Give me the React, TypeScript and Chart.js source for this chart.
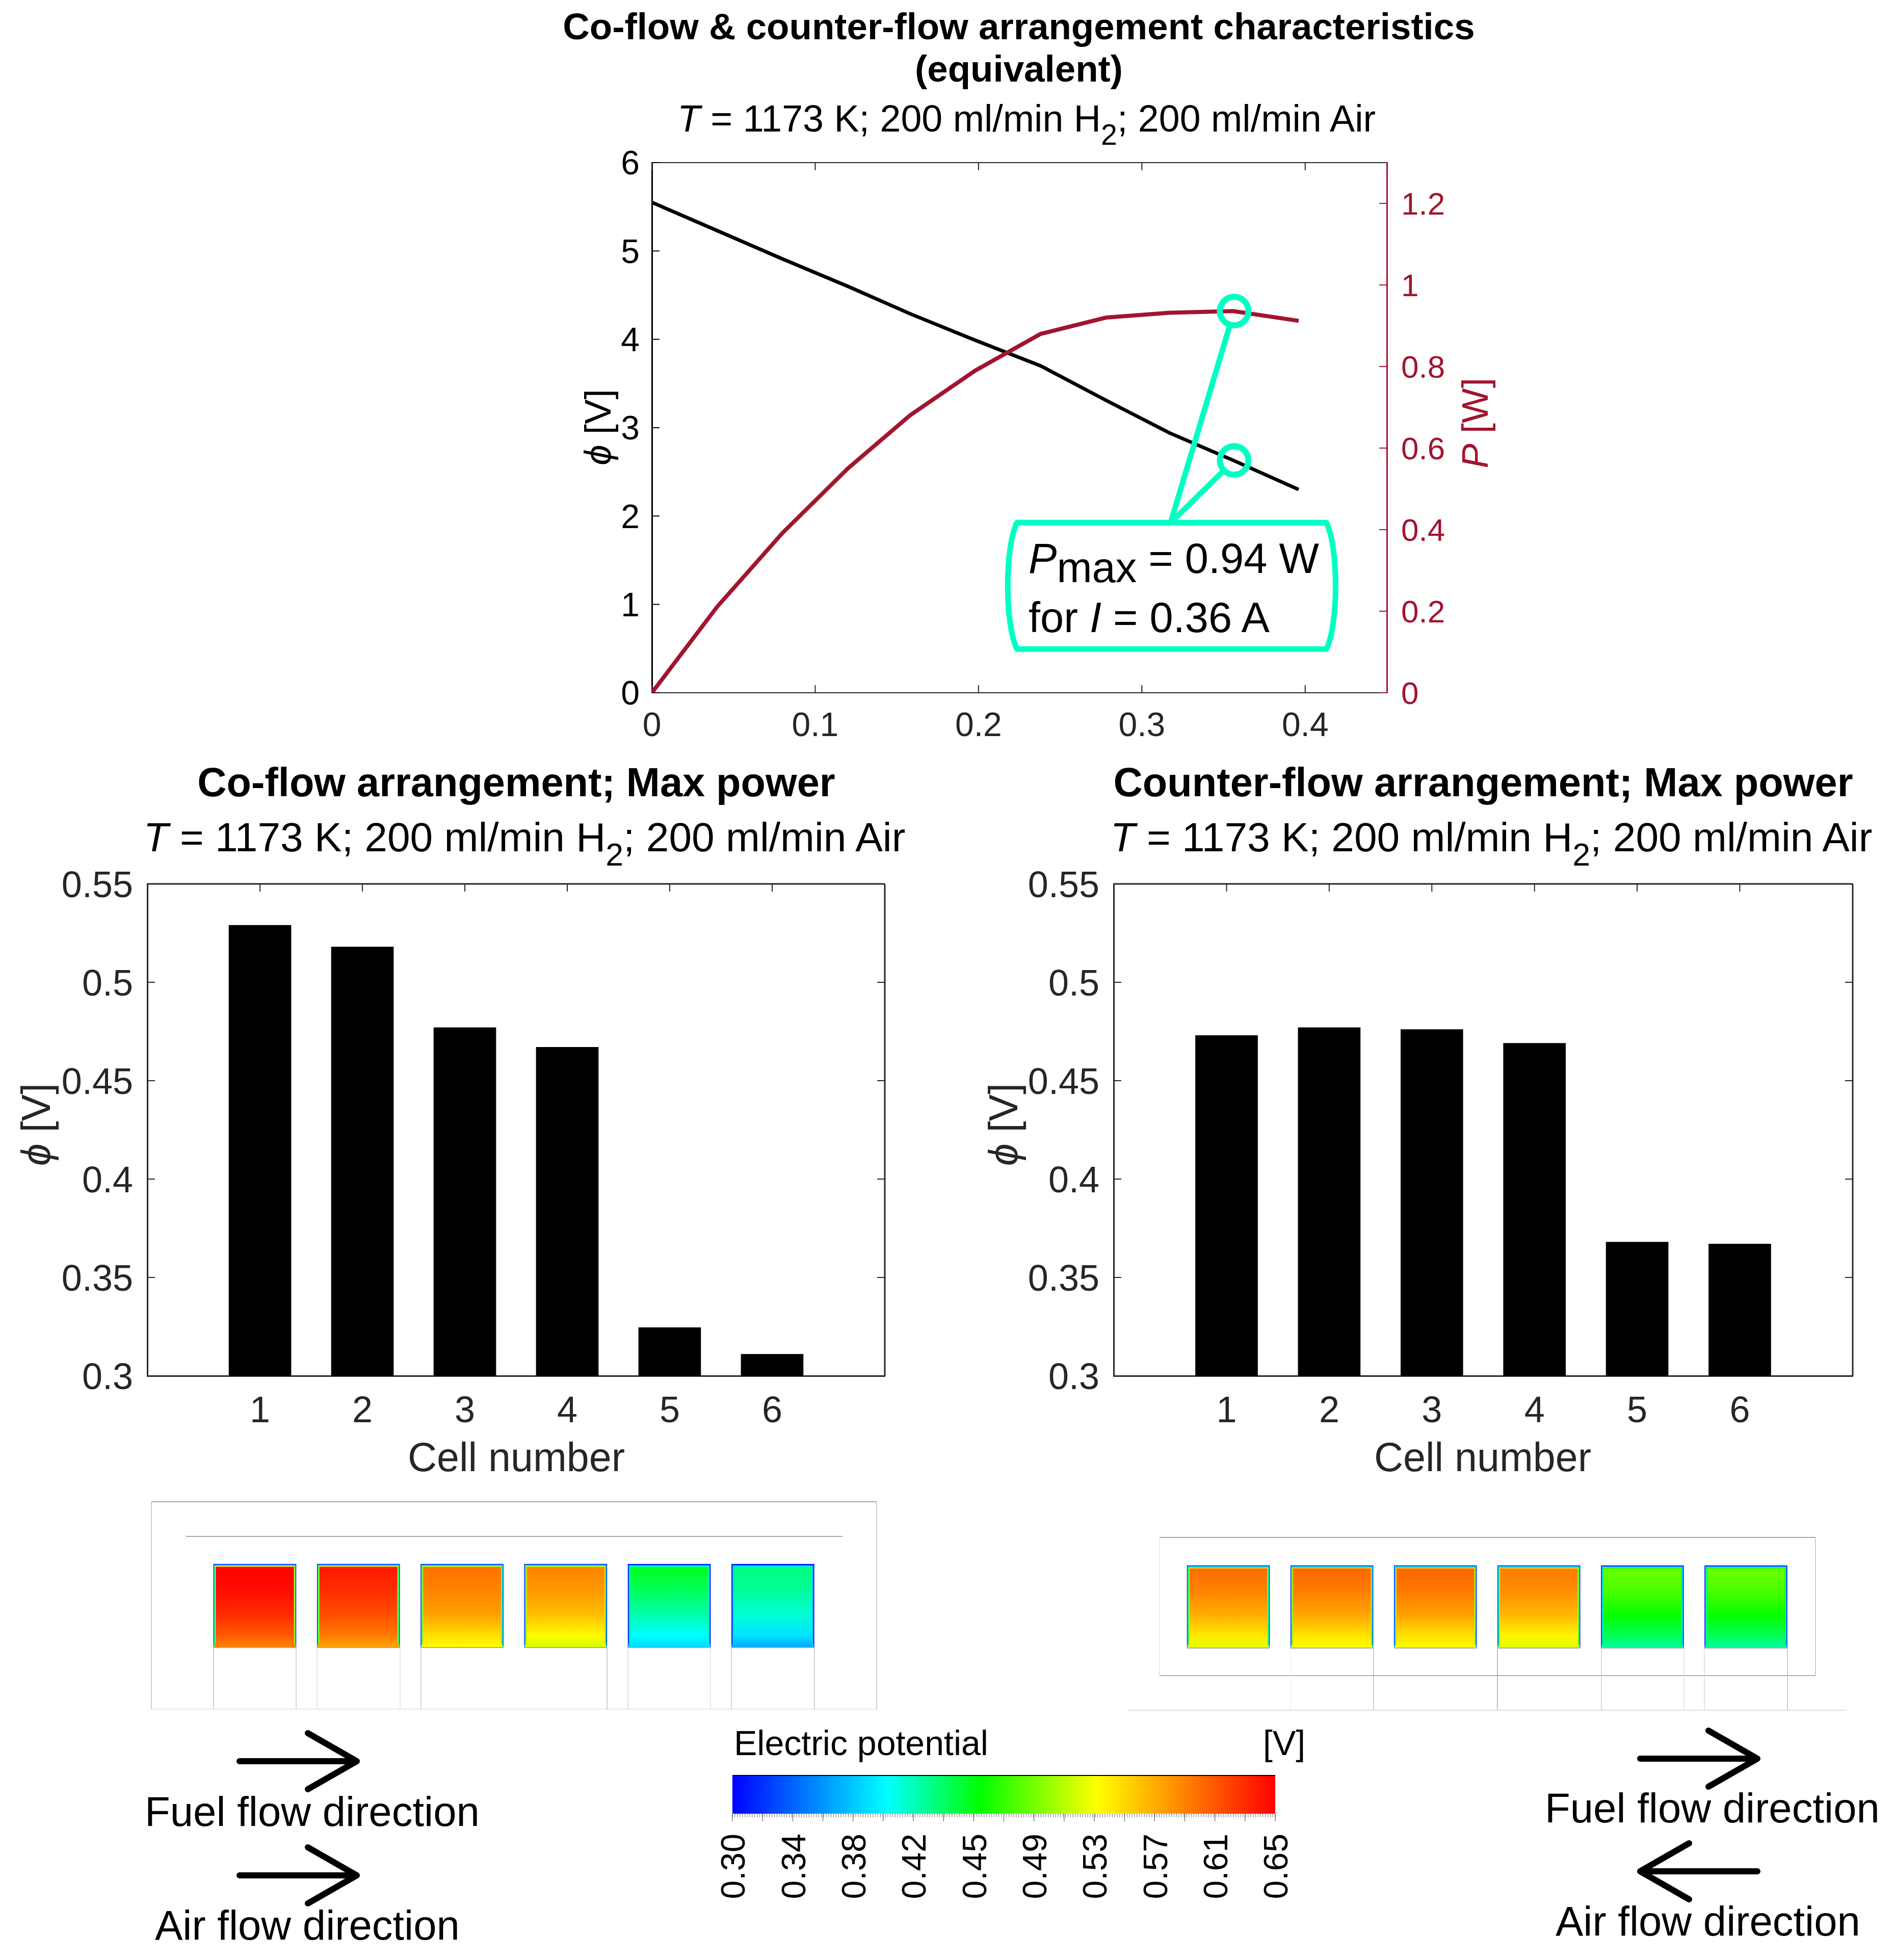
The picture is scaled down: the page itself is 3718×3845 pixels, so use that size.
import React, { useEffect, useRef } from "react";
import { Chart, registerables } from "chart.js";

Chart.register(...registerables);

// ---------- data ----------
const currentA = [0, 0.04, 0.08, 0.12, 0.158, 0.198, 0.238, 0.278, 0.317, 0.356, 0.396];
const potentialV = [5.55, 5.23, 4.91, 4.6, 4.29, 3.99, 3.7, 3.31, 2.94, 2.63, 2.3];
const powerW = [0, 0.211, 0.392, 0.55, 0.68, 0.79, 0.88, 0.92, 0.932, 0.936, 0.912];
const maxPowerCurrent = [0.3565];
const maxPowerValue = [0.936];
const maxPowerPotential = [2.63];

const cellNumbers = [1, 2, 3, 4, 5, 6];
const coFlowCells = [0.529, 0.518, 0.477, 0.467, 0.3245, 0.311];
const counterFlowCells = [0.473, 0.477, 0.476, 0.469, 0.368, 0.367];

const topXTicks = [0, 0.1, 0.2, 0.3, 0.4];
const colorbarLabels = ["0.30", "0.34", "0.38", "0.42", "0.45", "0.49", "0.53", "0.57", "0.61", "0.65"];

// colour scale: potential -> colour
const colormapValues = [0.3, 0.4, 0.46, 0.535, 0.65];
const colormapColors = [[0, 0, 255], [0, 255, 255], [0, 255, 0], [255, 255, 0], [255, 0, 0]];

// potential read down each cell of the contour pictures (top, 30%, 60%, 85%, bottom)
const profilePositions = [0, 0.3, 0.6, 0.85, 1];
const coFlowProfiles = [
  [0.65, 0.645, 0.63, 0.61, 0.59],
  [0.64, 0.63, 0.615, 0.595, 0.575],
  [0.6, 0.592, 0.578, 0.55, 0.535],
  [0.592, 0.582, 0.565, 0.537, 0.523],
  [0.455, 0.44, 0.42, 0.4, 0.385],
  [0.43, 0.425, 0.41, 0.39, 0.365],
];
const counterFlowProfiles = [
  [0.603, 0.592, 0.572, 0.545, 0.527],
  [0.606, 0.594, 0.575, 0.547, 0.533],
  [0.606, 0.596, 0.577, 0.548, 0.533],
  [0.596, 0.587, 0.568, 0.54, 0.525],
  [0.493, 0.482, 0.462, 0.44, 0.422],
  [0.493, 0.482, 0.462, 0.44, 0.422],
];

// ---------- styles ----------
const FONT = '"Liberation Sans", Arial, sans-serif';
const INK = "#262626";
const CRIMSON = "#A2142F";
const MINT = "#00FFC3";

const plainNumber = (v: any) => String(Number(Number(v).toFixed(2)));

function potentialColor(v: number) {
  const xs = colormapValues;
  let i = 0;
  while (i < xs.length - 2 && v > xs[i + 1]) i++;
  const t = Math.max(0, Math.min(1, (v - xs[i]) / (xs[i + 1] - xs[i])));
  const c = colormapColors[i].map((a, k) => Math.round(a + (colormapColors[i + 1][k] - a) * t));
  return `rgb(${c[0]},${c[1]},${c[2]})`;
}

type TickSpec = { axis: string; side: "bottom" | "top" | "left" | "right"; color: string };

function inwardTicks(specs: TickSpec[], frame: { side: string; color: string; width: number }[]) {
  return {
    id: "inwardTicks",
    beforeDatasetsDraw(chart: any) {
      const { ctx, chartArea: a } = chart;
      ctx.save();
      frame.forEach((f) => {
        ctx.strokeStyle = f.color;
        ctx.lineWidth = f.width;
        ctx.beginPath();
        if (f.side === "top") { ctx.moveTo(a.left, a.top); ctx.lineTo(a.right, a.top); }
        if (f.side === "right") { ctx.moveTo(a.right, a.top); ctx.lineTo(a.right, a.bottom); }
        ctx.stroke();
      });
      ctx.lineWidth = 2;
      specs.forEach((s) => {
        const sc = chart.scales[s.axis];
        ctx.strokeStyle = s.color;
        sc.ticks.forEach((t: any) => {
          const p = sc.getPixelForValue(t.value);
          ctx.beginPath();
          if (s.side === "bottom") { ctx.moveTo(p, a.bottom); ctx.lineTo(p, a.bottom - 15); }
          if (s.side === "top") { ctx.moveTo(p, a.top); ctx.lineTo(p, a.top + 15); }
          if (s.side === "left") { ctx.moveTo(a.left, p); ctx.lineTo(a.left + 15, p); }
          if (s.side === "right") { ctx.moveTo(a.right, p); ctx.lineTo(a.right - 15, p); }
          ctx.stroke();
        });
      });
      ctx.restore();
    },
  };
}

const calloutPlugin = {
  id: "callout",
  afterDatasetsDraw(chart: any) {
    const { ctx } = chart;
    const x = chart.scales.x;
    const y = chart.scales.y;
    const y1 = chart.scales.y1;
    const L = x.getPixelForValue(0.2235);
    const R = x.getPixelForValue(0.413);
    const T = y.getPixelForValue(1.925);
    const B = y.getPixelForValue(0.495);
    const h = B - T;
    const bulge = 24;
    ctx.save();
    ctx.strokeStyle = MINT;
    ctx.lineWidth = 11;
    ctx.lineJoin = "round";
    ctx.beginPath();
    ctx.moveTo(L, T);
    ctx.lineTo(R, T);
    ctx.bezierCurveTo(R + bulge, T + 0.2 * h, R + bulge, B - 0.2 * h, R, B);
    ctx.lineTo(L, B);
    ctx.bezierCurveTo(L - bulge, B - 0.2 * h, L - bulge, T + 0.2 * h, L, T);
    ctx.closePath();
    ctx.stroke();
    const sx = x.getPixelForValue(0.3176);
    const cx = x.getPixelForValue(maxPowerCurrent[0]);
    [y1.getPixelForValue(maxPowerValue[0]), y.getPixelForValue(maxPowerPotential[0])].forEach((cy) => {
      const dx = cx - sx;
      const dy = cy - T;
      const len = Math.hypot(dx, dy);
      ctx.beginPath();
      ctx.moveTo(sx, T);
      ctx.lineTo(cx - (dx / len) * 30, cy - (dy / len) * 30);
      ctx.stroke();
    });
    ctx.restore();
  },
};

function useChart(makeConfig: (canvas: HTMLCanvasElement) => any) {
  const ref = useRef<HTMLCanvasElement | null>(null);
  useEffect(() => {
    if (!ref.current) return;
    const chart = new Chart(ref.current, makeConfig(ref.current));
    return () => chart.destroy();
  }, []);
  return ref;
}

function ChartBox({ x, y, w, h, config }: { x: number; y: number; w: number; h: number; config: any }) {
  const ref = useChart(() => config());
  return (
    <canvas
      ref={ref}
      width={w}
      height={h}
      style={{ position: "absolute", left: x, top: y, width: w, height: h, display: "block" }}
    />
  );
}

// ---------- charts ----------
function topConfig() {
  return {
    type: "line",
    data: {
      datasets: [
        {
          label: "ϕ [V]",
          data: currentA.map((c, i) => ({ x: c, y: potentialV[i] })),
          borderColor: "#000000",
          borderWidth: 7,
          pointRadius: 0,
          tension: 0,
          yAxisID: "y",
          order: 3,
        },
        {
          label: "P [W]",
          data: currentA.map((c, i) => ({ x: c, y: powerW[i] })),
          borderColor: CRIMSON,
          borderWidth: 8,
          pointRadius: 0,
          tension: 0,
          yAxisID: "y1",
          order: 2,
        },
        {
          label: "Pmax",
          data: maxPowerCurrent.map((c, i) => ({ x: c, y: maxPowerValue[i] })),
          showLine: false,
          pointRadius: 28,
          pointBorderWidth: 12,
          pointBorderColor: MINT,
          pointBackgroundColor: "rgba(0,0,0,0)",
          yAxisID: "y1",
          order: 1,
        },
        {
          label: "Potential at Pmax",
          data: maxPowerCurrent.map((c, i) => ({ x: c, y: maxPowerPotential[i] })),
          showLine: false,
          pointRadius: 28,
          pointBorderWidth: 12,
          pointBorderColor: MINT,
          pointBackgroundColor: "rgba(0,0,0,0)",
          yAxisID: "y",
          order: 1,
        },
      ],
    },
    options: {
      responsive: false,
      animation: false,
      devicePixelRatio: 1,
      layout: { padding: { top: 80, left: 0, right: 0, bottom: 0 } },
      plugins: { legend: { display: false }, tooltip: { enabled: false } },
      scales: {
        x: {
          type: "linear",
          min: 0,
          max: 0.45,
          afterBuildTicks: (s: any) => { s.ticks = topXTicks.map((v) => ({ value: v })); },
          afterFit: (s: any) => { s.height = 121; },
          grid: { display: false, drawTicks: false },
          border: { display: true, color: INK, width: 2 },
          ticks: { color: INK, font: { family: FONT, size: 66 }, padding: 27, maxRotation: 0, autoSkip: false, callback: plainNumber },
        },
        y: {
          position: "left",
          min: 0,
          max: 6,
          afterFit: (s: any) => { s.width = 179; },
          grid: { display: false, drawTicks: false },
          border: { display: true, color: "#000000", width: 3 },
          ticks: { color: "#000000", font: { family: FONT, size: 66 }, padding: 24, stepSize: 1, labelOffset: 5, callback: plainNumber },
        },
        y1: {
          position: "right",
          min: 0,
          max: 1.3,
          afterFit: (s: any) => { s.width = 179; },
          grid: { display: false, drawTicks: false },
          border: { display: true, color: CRIMSON, width: 3 },
          ticks: { color: CRIMSON, font: { family: FONT, size: 62 }, padding: 28, stepSize: 0.2, includeBounds: false, labelOffset: 5, callback: plainNumber },
        },
      },
    },
    plugins: [
      inwardTicks(
        [
          { axis: "x", side: "bottom", color: INK },
          { axis: "x", side: "top", color: INK },
          { axis: "y", side: "left", color: "#000000" },
          { axis: "y1", side: "right", color: CRIMSON },
        ],
        [{ side: "top", color: INK, width: 2 }]
      ),
      calloutPlugin,
    ],
  };
}

function barConfig(values: number[]) {
  return () => ({
    type: "bar",
    data: {
      datasets: [
        {
          label: "ϕ [V]",
          data: cellNumbers.map((c, i) => ({ x: c, y: values[i] })),
          backgroundColor: "#000000",
          barThickness: 122,
        },
      ],
    },
    options: {
      responsive: false,
      animation: false,
      devicePixelRatio: 1,
      layout: { padding: { top: 80, left: 0, right: 14, bottom: 0 } },
      plugins: { legend: { display: false }, tooltip: { enabled: false } },
      scales: {
        x: {
          type: "linear",
          min: -0.1,
          max: 7.1,
          offset: false,
          afterBuildTicks: (s: any) => { s.ticks = cellNumbers.map((v) => ({ value: v })); },
          afterFit: (s: any) => { s.height = 200; },
          grid: { display: false, drawTicks: false, offset: false },
          border: { display: true, color: INK, width: 3 },
          ticks: { color: INK, font: { family: FONT, size: 72 }, padding: 28, maxRotation: 0, autoSkip: false },
        },
        y: {
          min: 0.3,
          max: 0.55,
          afterFit: (s: any) => { s.width = 200; },
          grid: { display: false, drawTicks: false },
          border: { display: true, color: INK, width: 3 },
          ticks: { color: INK, font: { family: FONT, size: 72 }, padding: 28, stepSize: 0.05, labelOffset: 6, callback: plainNumber },
        },
      },
    },
    plugins: [
      inwardTicks(
        [
          { axis: "x", side: "bottom", color: INK },
          { axis: "x", side: "top", color: INK },
          { axis: "y", side: "left", color: INK },
          { axis: "y", side: "right", color: INK },
        ],
        [
          { side: "top", color: INK, width: 3 },
          { side: "right", color: INK, width: 3 },
        ]
      ),
    ],
  });
}

type Seg = [number, number, number, number, string, number];

function contourPlugin(profiles: number[][], ox: number, oy: number, segs: Seg[]) {
  return {
    id: "contour",
    beforeDatasetsDraw(chart: any) {
      const { ctx } = chart;
      ctx.save();
      segs.forEach(([x1, y1, x2, y2, color, w]) => {
        ctx.strokeStyle = color;
        ctx.lineWidth = w;
        ctx.beginPath();
        ctx.moveTo(x1 - ox, y1 - oy);
        ctx.lineTo(x2 - ox, y2 - oy);
        ctx.stroke();
      });
      ctx.restore();
    },
    afterDatasetsDraw(chart: any) {
      const { ctx } = chart;
      const bars = chart.getDatasetMeta(0).data;
      ctx.save();
      bars.forEach((bar: any, i: number) => {
        const profile = profiles[i];
        const x0 = bar.x - bar.width / 2;
        const x1 = bar.x + bar.width / 2;
        const y0 = bar.y;
        const y1 = bar.base;
        const steps = 6;
        const rim = (k: number, fill: any) => {
          const chamfer = 9;
          const sideIn = k * 0.85;
          const footIn = k * 0.2;
          ctx.beginPath();
          ctx.moveTo(x0 + sideIn, y0 + k);
          ctx.lineTo(x1 - sideIn, y0 + k);
          ctx.lineTo(x1 - sideIn, y1 - chamfer);
          ctx.lineTo(x1 - footIn, y1);
          ctx.lineTo(x0 + footIn, y1);
          ctx.lineTo(x0 + sideIn, y1 - chamfer);
          ctx.closePath();
          ctx.fillStyle = fill;
          ctx.fill();
        };
        for (let k = 0; k < steps; k++) {
          rim(k, potentialColor(0.3 + ((profile[0] - 0.3) * k) / steps));
        }
        const g = ctx.createLinearGradient(0, y0, 0, y1);
        profile.forEach((v, j) => g.addColorStop(profilePositions[j], potentialColor(v)));
        rim(steps, g);
        ctx.strokeStyle = "#aaaaaa";
        ctx.lineWidth = 2;
        ctx.beginPath();
        ctx.moveTo(x0, y1);
        ctx.lineTo(x1, y1);
        ctx.stroke();
      });
      ctx.restore();
    },
  };
}

function contourConfig(profiles: number[][], ox: number, oy: number, pad: any, segs: Seg[]) {
  return () => ({
    type: "bar",
    data: {
      labels: cellNumbers.map(String),
      datasets: [
        {
          label: "Cell",
          data: cellNumbers.map(() => 1),
          backgroundColor: "rgba(0,0,0,0)",
          barPercentage: 0.8,
          categoryPercentage: 1,
        },
      ],
    },
    options: {
      responsive: false,
      animation: false,
      devicePixelRatio: 1,
      layout: { padding: pad },
      plugins: { legend: { display: false }, tooltip: { enabled: false } },
      scales: {
        x: { display: false },
        y: { display: false, min: 0, max: 1 },
      },
    },
    plugins: [contourPlugin(profiles, ox, oy, segs)],
  });
}

const coFlowSegs: Seg[] = [
  [297, 2946, 1720, 2946, "#8c8c8c", 1.5],
  [297, 2946, 297, 3353, "#a0a0a0", 1],
  [1720, 2946, 1720, 3353, "#a0a0a0", 1],
  [297, 3353, 1720, 3353, "#e4e4e4", 1.5],
  [365, 3014, 1653, 3014, "#8c8c8c", 1.5],
  [419, 3232, 419, 3353, "#a0a0a0", 1],
  [581, 3232, 581, 3353, "#b0b0b0", 1],
  [622, 3232, 622, 3353, "#cccccc", 1],
  [785, 3232, 785, 3353, "#d0d0d0", 1],
  [826, 3232, 826, 3353, "#b0b0b0", 1],
  [1191, 3232, 1191, 3353, "#a0a0a0", 1],
  [1232, 3232, 1232, 3353, "#c0c0c0", 1],
  [1394, 3232, 1394, 3353, "#d0d0d0", 1],
  [1435, 3232, 1435, 3353, "#b0b0b0", 1],
  [1598, 3232, 1598, 3353, "#a0a0a0", 1],
];

const counterFlowSegs: Seg[] = [
  [2275, 3016, 3562, 3016, "#8c8c8c", 1.5],
  [2275, 3016, 2275, 3287, "#d4d4d4", 1],
  [3562, 3016, 3562, 3287, "#a0a0a0", 1],
  [2275, 3287, 3562, 3287, "#999999", 1.5],
  [2532, 3233, 2532, 3355, "#e8e8e8", 1],
  [2695, 3233, 2695, 3355, "#a0a0a0", 1],
  [2938, 3233, 2938, 3355, "#808080", 1],
  [3142, 3233, 3142, 3355, "#b8b8b8", 1],
  [3304, 3233, 3304, 3355, "#d4d4d4", 1],
  [3344, 3233, 3344, 3355, "#c8c8c8", 1],
  [3507, 3233, 3507, 3355, "#999999", 1],
  [2214, 3355, 3623, 3355, "#d4d4d4", 1.5],
];

const colorbarTicksPlugin = {
  id: "colorbarTicks",
  afterDraw(chart: any) {
    const { ctx, chartArea: a } = chart;
    const sc = chart.scales.x;
    const span = 0.65 - 0.3;
    ctx.save();
    ctx.strokeStyle = "#000000";
    ctx.lineWidth = 2;
    ctx.beginPath();
    ctx.moveTo(a.left, a.top);
    ctx.lineTo(a.right, a.top);
    ctx.stroke();
    ctx.lineWidth = 1;
    ctx.strokeStyle = "#707070";
    for (let i = 0; i <= 220; i++) {
      const p = sc.getPixelForValue(0.3 + (span * i) / 220);
      ctx.beginPath();
      ctx.moveTo(p, a.bottom);
      ctx.lineTo(p, a.bottom + 7);
      ctx.stroke();
    }
    ctx.strokeStyle = "#404040";
    for (let i = 0; i <= 18; i++) {
      const p = sc.getPixelForValue(0.3 + (span * i) / 18);
      ctx.beginPath();
      ctx.moveTo(p, a.bottom);
      ctx.lineTo(p, a.bottom + 15);
      ctx.stroke();
    }
    ctx.restore();
  },
};

function colorbarConfig() {
  return {
    type: "bar",
    data: {
      labels: ["Electric potential"],
      datasets: [
        {
          label: "Electric potential",
          data: [[0.3, 0.65]],
          barPercentage: 1,
          categoryPercentage: 1,
          backgroundColor: (c: any) => {
            const area = c.chart.chartArea;
            if (!area) return "#0000ff";
            const sc = c.chart.scales.x;
            const g = c.chart.ctx.createLinearGradient(area.left, 0, area.right, 0);
            colormapValues.forEach((v) => g.addColorStop((sc.getPixelForValue(v) - area.left) / (area.right - area.left), potentialColor(v)));
            return g;
          },
        },
      ],
    },
    options: {
      indexAxis: "y",
      responsive: false,
      animation: false,
      devicePixelRatio: 1,
      layout: { padding: { top: 13, left: 80, right: 130, bottom: 0 } },
      plugins: { legend: { display: false }, tooltip: { enabled: false } },
      scales: {
        x: {
          type: "linear",
          min: 0.3,
          max: 0.65,
          afterBuildTicks: (s: any) => {
            s.ticks = colorbarLabels.map((_, i) => ({ value: 0.3 + (0.35 * i) / (colorbarLabels.length - 1) }));
          },
          afterFit: (s: any) => { s.height = 182; },
          grid: { display: false, drawTicks: false },
          border: { display: false },
          ticks: {
            color: "#000000",
            font: { family: FONT, size: 66 },
            padding: 39,
            minRotation: 90,
            maxRotation: 90,
            autoSkip: false,
            labelOffset: 6,
            callback: (_: any, i: number) => colorbarLabels[i],
          },
        },
        y: { display: false },
      },
    },
    plugins: [colorbarTicksPlugin],
  };
}

// ---------- text ----------
function Label(props: {
  x: number;
  baseline: number;
  size: number;
  align?: "left" | "center";
  bold?: boolean;
  color?: string;
  children: any;
}) {
  const { x, baseline, size, align = "left", bold, color = "#000000", children } = props;
  return (
    <div
      style={{
        position: "absolute",
        left: x,
        top: baseline - 0.8465 * size,
        transform: align === "center" ? "translateX(-50%)" : undefined,
        font: `${bold ? "bold " : ""}${size}px/1 ${FONT}`,
        color,
        whiteSpace: "nowrap",
      }}
    >
      {children}
    </div>
  );
}

function VLabel({ x, y, size, color = INK, children }: { x: number; y: number; size: number; color?: string; children: any }) {
  return (
    <div
      style={{
        position: "absolute",
        left: x,
        top: y,
        transform: "translate(-50%,-50%) rotate(-90deg)",
        font: `${size}px/1 ${FONT}`,
        color,
        whiteSpace: "nowrap",
      }}
    >
      {children}
    </div>
  );
}

const subStyle: React.CSSProperties = { fontSize: "0.78em", verticalAlign: "-0.45em", lineHeight: 0 };

function Conditions() {
  return (
    <>
      <i>T</i> = 1173 K; 200 ml/min H<span style={subStyle}>2</span>; 200 ml/min Air
    </>
  );
}

function Arrow({ x1, x2, y }: { x1: number; x2: number; y: number }) {
  const dir = x2 > x1 ? 1 : -1;
  const hx = x2 - dir * 96;
  return (
    <path
      d={`M${x1} ${y} L${x2} ${y} M${hx} ${y - 55} L${x2} ${y} L${hx} ${y + 55}`}
      fill="none"
      stroke="#000000"
      strokeWidth={12}
      strokeLinecap="round"
      strokeLinejoin="round"
    />
  );
}

export default function App() {
  return (
    <div style={{ position: "absolute", left: 0, top: 0, width: 3718, height: 3845, background: "#ffffff", overflow: "hidden" }}>
      <ChartBox x={1100} y={239} w={1800} h={1241} config={topConfig} />
      <ChartBox x={89} y={1654} w={1661} h={1245} config={barConfig(coFlowCells)} />
      <ChartBox x={1985} y={1654} w={1664} h={1245} config={barConfig(counterFlowCells)} />

      <ChartBox
        x={280}
        y={2930}
        w={1460}
        h={440}
        config={contourConfig(coFlowProfiles, 280, 2930, { left: 118.3, right: 122, top: 138, bottom: 138 }, coFlowSegs)}
      />
      <ChartBox
        x={2200}
        y={3000}
        w={1440}
        h={370}
        config={contourConfig(counterFlowProfiles, 2200, 3000, { left: 108.5, right: 113, top: 71, bottom: 137 }, counterFlowSegs)}
      />
      <ChartBox x={1357} y={3470} w={1275} h={270} config={colorbarConfig} />

      <svg width={3718} height={3845} style={{ position: "absolute", left: 0, top: 0, pointerEvents: "none" }}>
        <Arrow x1={470} x2={700} y={3455} />
        <Arrow x1={470} x2={700} y={3679} />
        <Arrow x1={3218} x2={3448} y={3450} />
        <Arrow x1={3448} x2={3218} y={3671} />
      </svg>

      <Label x={1999} baseline={78} size={72.7} align="center" bold>Co-flow &amp; counter-flow arrangement characteristics</Label>
      <Label x={1999} baseline={161} size={72.7} align="center" bold>(equivalent)</Label>
      <Label x={2014} baseline={258} size={73.6} align="center"><Conditions /></Label>

      <Label x={1013} baseline={1562} size={79.3} align="center" bold>Co-flow arrangement; Max power</Label>
      <Label x={1029} baseline={1670} size={80.3} align="center"><Conditions /></Label>
      <Label x={2910} baseline={1562} size={79.4} align="center" bold>Counter-flow arrangement; Max power</Label>
      <Label x={2926} baseline={1670} size={80.3} align="center"><Conditions /></Label>

      <Label x={1013} baseline={2886} size={79} align="center" color={INK}>Cell number</Label>
      <Label x={2909} baseline={2886} size={79} align="center" color={INK}>Cell number</Label>

      <VLabel x={1173} y={838} size={72.7} color="#000000"><i>ϕ</i> [V]</VLabel>
      <VLabel x={2894} y={830} size={72.7} color={CRIMSON}><i>P</i> [W]</VLabel>
      <VLabel x={70} y={2206} size={79}><i>ϕ</i> [V]</VLabel>
      <VLabel x={1968} y={2206} size={79}><i>ϕ</i> [V]</VLabel>

      <Label x={2018} baseline={1124} size={83}>
        <i>P</i><span style={{ verticalAlign: "-0.22em", lineHeight: 0 }}>max</span> = 0.94 W
      </Label>
      <Label x={2018} baseline={1240} size={83}>for <i>I</i> = 0.36 A</Label>

      <Label x={1440} baseline={3443} size={68}>Electric potential</Label>
      <Label x={2478} baseline={3443} size={68}>[V]</Label>

      <Label x={284} baseline={3582} size={81.5}>Fuel flow direction</Label>
      <Label x={304} baseline={3805} size={81.5}>Air flow direction</Label>
      <Label x={3031} baseline={3575} size={81.5}>Fuel flow direction</Label>
      <Label x={3052} baseline={3797} size={81.5}>Air flow direction</Label>
    </div>
  );
}
